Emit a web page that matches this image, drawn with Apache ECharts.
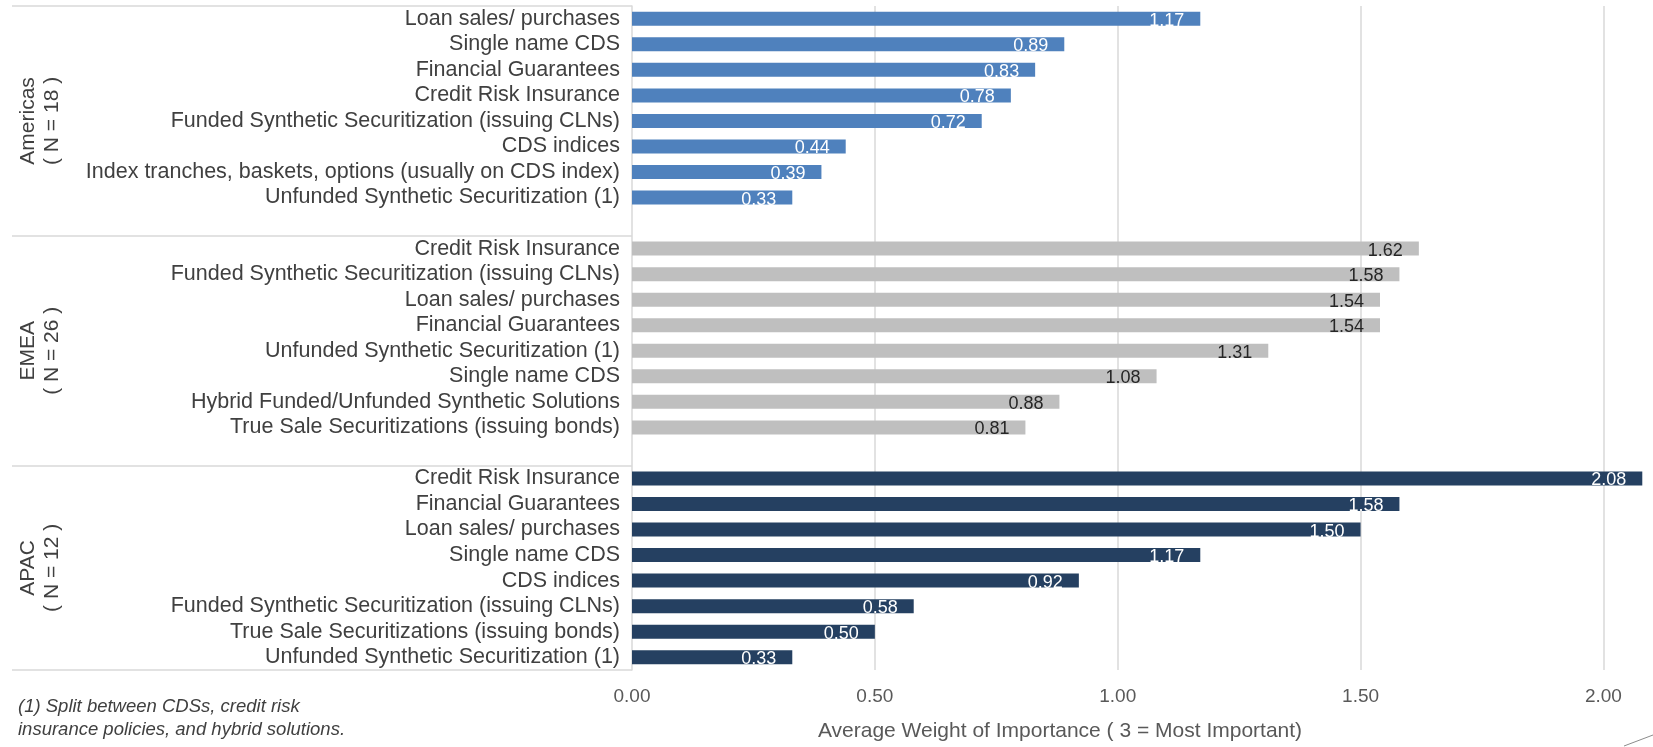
<!DOCTYPE html>
<html>
<head>
<meta charset="utf-8">
<script src="https://cdn.jsdelivr.net/npm/echarts@6/dist/echarts.min.js"></script>
<style>
html,body{margin:0;padding:0;background:#fff;}
#chart{width:1653px;height:747px;}
</style>
</head>
<body>
<div id="chart"></div>
<script>
// ---- data ----
const americasCats = ['Loan sales/ purchases', 'Single name CDS', 'Financial Guarantees', 'Credit Risk Insurance',
  'Funded Synthetic Securitization (issuing CLNs)', 'CDS indices',
  'Index tranches, baskets, options (usually on CDS index)', 'Unfunded Synthetic Securitization (1)'];
const americasVals = [1.17, 0.89, 0.83, 0.78, 0.72, 0.44, 0.39, 0.33];

const emeaCats = ['Credit Risk Insurance', 'Funded Synthetic Securitization (issuing CLNs)', 'Loan sales/ purchases',
  'Financial Guarantees', 'Unfunded Synthetic Securitization (1)', 'Single name CDS',
  'Hybrid Funded/Unfunded Synthetic Solutions', 'True Sale Securitizations (issuing bonds)'];
const emeaVals = [1.62, 1.58, 1.54, 1.54, 1.31, 1.08, 0.88, 0.81];

const apacCats = ['Credit Risk Insurance', 'Financial Guarantees', 'Loan sales/ purchases', 'Single name CDS',
  'CDS indices', 'Funded Synthetic Securitization (issuing CLNs)', 'True Sale Securitizations (issuing bonds)',
  'Unfunded Synthetic Securitization (1)'];
const apacVals = [2.08, 1.58, 1.50, 1.17, 0.92, 0.58, 0.50, 0.33];

const groupNames = ['Americas\n( N = 18 )', 'EMEA\n( N = 26 )', 'APAC\n( N = 12 )'];
const xTicks = [0, 0.5, 1.0, 1.5, 2.0];
const xAxisTitle = 'Average Weight of Importance ( 3 = Most Important)';
const footnote = '(1) Split between CDSs, credit risk\ninsurance policies, and hybrid solutions.';

// ---- build ----
const cats = [...americasCats, '', ...emeaCats, ' ', ...apacCats];
const pad = n => Array(n).fill(null);
const dAm = [...americasVals, ...pad(cats.length - americasVals.length)];
const dEm = [...pad(americasCats.length + 1), ...emeaVals, ...pad(apacCats.length + 1)];
const dAp = [...pad(americasCats.length + emeaCats.length + 2), ...apacVals];
const groupStarts = [0, americasCats.length + 1, americasCats.length + emeaCats.length + 2];
const groupEnds = [americasCats.length, americasCats.length + emeaCats.length + 1, cats.length - 1];

const FONT = '"Liberation Sans", Arial, sans-serif';
const chart = echarts.init(document.getElementById('chart'));

function barSeries(name, data, color, labelColor) {
  return {
    name, type: 'bar', data, barWidth: 14, barGap: '-100%',
    itemStyle: { color },
    label: {
      show: true, position: 'insideRight', distance: 16, offset: [0, 2],
      color: labelColor, fontFamily: FONT, fontSize: 18,
      formatter: p => p.value == null ? '' : Number(p.value).toFixed(2)
    }
  };
}

chart.setOption({
  animation: false,
  backgroundColor: '#fff',
  grid: { left: 632, right: 1, top: 6, bottom: 77, containLabel: false },
  xAxis: {
    type: 'value', min: 0, max: 2.1, interval: 0.5,
    axisLine: { show: false }, axisTick: { show: false },
    axisLabel: {
      fontFamily: FONT, fontSize: 19, color: '#595959', margin: 17, showMaxLabel: false,
      formatter: v => xTicks.some(t => Math.abs(t - v) < 1e-9) ? v.toFixed(2) : ''
    },
    splitLine: { show: true, showMinLine: false, showMaxLine: false, lineStyle: { color: '#d9d9d9', width: 1.5 } }
  },
  yAxis: {
    type: 'category', data: cats, inverse: true,
    axisLine: { show: true, lineStyle: { color: '#d9d9d9', width: 1.5 } },
    axisTick: {
      show: true, length: 620, lineStyle: { color: '#d9d9d9', width: 1.5 },
      interval: (idx) => groupStarts.includes(idx)
    },
    axisLabel: { fontFamily: FONT, fontSize: 21.5, color: '#404040', margin: 12, interval: 0 }
  },
  series: [
    barSeries('Americas', dAm, '#4f81bd', '#ffffff'),
    barSeries('EMEA', dEm, '#bfbfbf', '#262626'),
    barSeries('APAC', dAp, '#254061', '#ffffff')
  ]
});

// group labels & extra texts, positioned via the chart's own axes
function place() {
  const elements = [];
  groupNames.forEach((g, i) => {
    const y1 = chart.convertToPixel({ yAxisIndex: 0 }, groupStarts[i]);
    const y2 = chart.convertToPixel({ yAxisIndex: 0 }, groupEnds[i]);
    elements.push({
      type: 'text', x: 40, y: (y1 + y2) / 2, rotation: Math.PI / 2,
      style: { text: g, fontFamily: FONT, fontSize: 21, fill: '#404040', align: 'center', verticalAlign: 'middle', lineHeight: 24 }
    });
  });
  elements.push({
    type: 'text', x: 1060, y: 731,
    style: { text: xAxisTitle, fontFamily: FONT, fontSize: 21, fill: '#595959', align: 'center', verticalAlign: 'middle' }
  });
  elements.push({
    type: 'text', x: 18, y: 718,
    style: { text: footnote, fontFamily: FONT, fontSize: 18.5, fontStyle: 'italic', fill: '#404040', align: 'left', verticalAlign: 'middle', lineHeight: 23 }
  });
  elements.push({
    type: 'line', shape: { x1: 1624, y1: 746, x2: 1653, y2: 735 },
    style: { stroke: '#8c8c8c', lineWidth: 1 }
  });
  chart.setOption({ graphic: { elements } });
}
place();
</script>
</body>
</html>
